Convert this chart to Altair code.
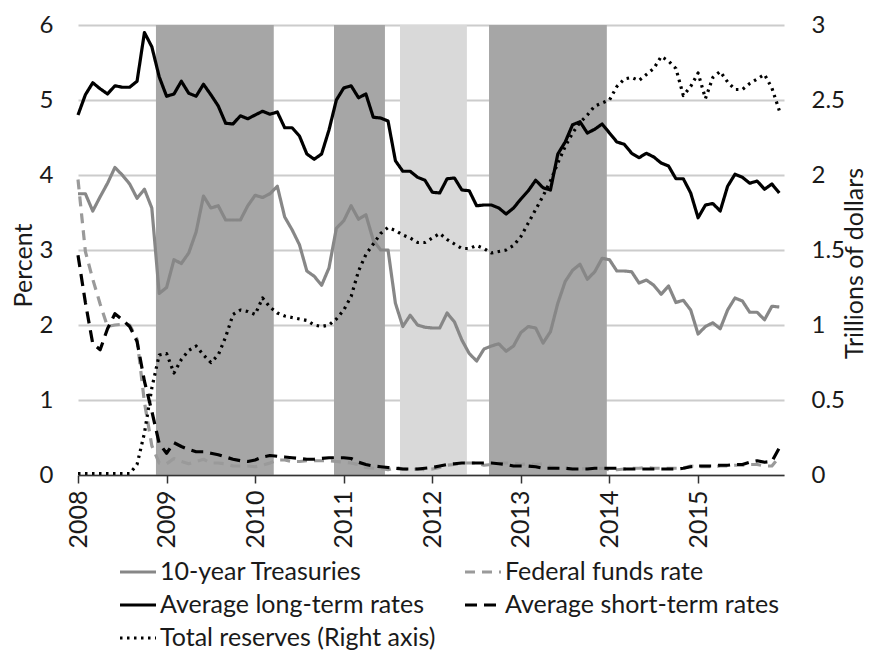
import altair as alt
import pandas as pd

# ---- data (monthly, Jan 2008 - Dec 2015) ----
years = list(range(2008, 2016))
series_names = ["10-year Treasuries", "Federal funds rate", "Average long-term rates",
                "Average short-term rates", "Total reserves (Right axis)"]
# legend fills column by column: this order shows row by row as in the reference
legend_order = ["10-year Treasuries", "Average long-term rates", "Total reserves (Right axis)",
                "Federal funds rate", "Average short-term rates"]
series_colors = {"10-year Treasuries": "#878787", "Federal funds rate": "#9a9a9a",
                 "Average long-term rates": "#000000", "Average short-term rates": "#000000",
                 "Total reserves (Right axis)": "#000000"}
series_dashes = {"10-year Treasuries": [1, 0], "Federal funds rate": [10, 7],
                 "Average long-term rates": [1, 0], "Average short-term rates": [12, 7],
                 "Total reserves (Right axis)": [2.5, 4.5]}

treasury_10y = [
    3.75, 3.75, 3.52, 3.71, 3.89, 4.10, 4.00, 3.88, 3.69, 3.81, 3.56, 2.42,
    2.50, 2.87, 2.82, 2.96, 3.24, 3.72, 3.56, 3.59, 3.40, 3.40, 3.40, 3.59,
    3.73, 3.70, 3.75, 3.85, 3.44, 3.27, 3.07, 2.72, 2.65, 2.53, 2.76, 3.29,
    3.39, 3.59, 3.41, 3.47, 3.13, 3.00, 3.00, 2.29, 1.98, 2.13, 2.00, 1.97,
    1.96, 1.96, 2.16, 2.04, 1.80, 1.62, 1.52, 1.68, 1.72, 1.75, 1.65, 1.72,
    1.90, 1.98, 1.96, 1.76, 1.91, 2.29, 2.58, 2.73, 2.81, 2.61, 2.71, 2.89,
    2.87, 2.72, 2.72, 2.71, 2.56, 2.60, 2.53, 2.41, 2.52, 2.30, 2.33, 2.20,
    1.88, 1.98, 2.03, 1.95, 2.20, 2.36, 2.32, 2.17, 2.17, 2.07, 2.25, 2.24,
]
fed_funds = [
    3.94, 2.98, 2.61, 2.28, 1.98, 2.00, 2.01, 2.00, 1.81, 0.97, 0.39, 0.16,
    0.15, 0.22, 0.18, 0.15, 0.18, 0.21, 0.16, 0.16, 0.15, 0.12, 0.12, 0.12,
    0.11, 0.13, 0.16, 0.20, 0.20, 0.18, 0.18, 0.19, 0.19, 0.19, 0.19, 0.18,
    0.17, 0.16, 0.14, 0.10, 0.09, 0.09, 0.07, 0.10, 0.08, 0.07, 0.08, 0.07,
    0.08, 0.10, 0.13, 0.14, 0.16, 0.16, 0.16, 0.13, 0.14, 0.16, 0.16, 0.16,
    0.14, 0.15, 0.14, 0.15, 0.11, 0.09, 0.09, 0.08, 0.08, 0.09, 0.08, 0.09,
    0.07, 0.07, 0.08, 0.09, 0.09, 0.10, 0.09, 0.09, 0.09, 0.09, 0.09, 0.12,
    0.11, 0.11, 0.11, 0.12, 0.12, 0.13, 0.13, 0.14, 0.14, 0.12, 0.12, 0.24,
]
avg_long = [
    4.80, 5.07, 5.23, 5.15, 5.08, 5.19, 5.17, 5.17, 5.25, 5.90, 5.71, 5.31,
    5.05, 5.08, 5.25, 5.09, 5.05, 5.21, 5.07, 4.92, 4.69, 4.68, 4.79, 4.75,
    4.80, 4.85, 4.81, 4.84, 4.63, 4.63, 4.52, 4.28, 4.21, 4.28, 4.60, 5.00,
    5.16, 5.19, 5.03, 5.08, 4.77, 4.76, 4.72, 4.19, 4.05, 4.05, 3.97, 3.93,
    3.77, 3.76, 3.95, 3.96, 3.80, 3.79, 3.59, 3.60, 3.60, 3.56, 3.48, 3.56,
    3.68, 3.79, 3.93, 3.83, 3.80, 4.28, 4.44, 4.67, 4.71, 4.56, 4.61, 4.68,
    4.56, 4.44, 4.41, 4.29, 4.23, 4.29, 4.24, 4.16, 4.12, 3.95, 3.95, 3.76,
    3.43, 3.60, 3.62, 3.52, 3.85, 4.01, 3.97, 3.89, 3.92, 3.81, 3.88, 3.76,
]
avg_short = [
    2.93, 2.30, 1.75, 1.67, 1.95, 2.15, 2.07, 1.98, 1.78, 1.25, 0.85, 0.42,
    0.29, 0.43, 0.38, 0.34, 0.31, 0.31, 0.29, 0.27, 0.24, 0.21, 0.19, 0.18,
    0.20, 0.24, 0.26, 0.25, 0.24, 0.23, 0.22, 0.21, 0.21, 0.22, 0.23, 0.23,
    0.23, 0.22, 0.17, 0.14, 0.12, 0.11, 0.10, 0.09, 0.08, 0.08, 0.08, 0.09,
    0.10, 0.12, 0.14, 0.15, 0.16, 0.16, 0.16, 0.16, 0.16, 0.15, 0.14, 0.12,
    0.12, 0.12, 0.11, 0.09, 0.09, 0.09, 0.09, 0.08, 0.08, 0.08, 0.09, 0.09,
    0.09, 0.09, 0.08, 0.08, 0.08, 0.08, 0.08, 0.08, 0.08, 0.08, 0.09, 0.11,
    0.12, 0.12, 0.12, 0.13, 0.13, 0.14, 0.14, 0.17, 0.19, 0.17, 0.18, 0.36,
]
total_reserves = [
    0.01, 0.01, 0.01, 0.01, 0.01, 0.01, 0.01, 0.01, 0.07, 0.28, 0.58, 0.80,
    0.81, 0.68, 0.77, 0.83, 0.86, 0.80, 0.75, 0.80, 0.92, 1.07, 1.10, 1.09,
    1.07, 1.18, 1.12, 1.08, 1.06, 1.05, 1.04, 1.03, 1.00, 0.99, 1.00, 1.04,
    1.10, 1.19, 1.36, 1.47, 1.54, 1.61, 1.65, 1.63, 1.60, 1.58, 1.55, 1.55,
    1.58, 1.61, 1.57, 1.54, 1.51, 1.51, 1.53, 1.51, 1.48, 1.49, 1.50, 1.53,
    1.59, 1.68, 1.77, 1.86, 1.96, 2.08, 2.19, 2.28, 2.35, 2.40, 2.46, 2.48,
    2.50, 2.59, 2.64, 2.65, 2.63, 2.67, 2.71, 2.79, 2.76, 2.71, 2.53, 2.59,
    2.68, 2.51, 2.65, 2.69, 2.62, 2.57, 2.57, 2.61, 2.64, 2.67, 2.58, 2.43,
]

# shaded policy periods (decimal years)
band_start = [2008.88, 2010.89, 2011.635, 2012.64]
band_end = [2010.21, 2011.465, 2012.39, 2013.97]
band_fill = ["#a6a6a6", "#a6a6a6", "#d9d9d9", "#a6a6a6"]

# ---- build tables ----
t = [y + m / 12 for y in years for m in range(12)]
rates_rows = []
for name, vals in zip(series_names[:4], [treasury_10y, fed_funds, avg_long, avg_short]):
    for ti, v in zip(t, vals):
        rates_rows.append({"t": ti, "value": v, "series": name})
rates_df = pd.DataFrame(rates_rows)
res_df = pd.DataFrame({"t": t, "value": total_reserves, "series": series_names[4]})
bands_df = pd.DataFrame({"start": band_start, "end": band_end, "fill": band_fill})

W, H = 706, 450
FONT = "Lato"
TXT = "#1a1a1a"

color_scale = alt.Scale(domain=legend_order, range=[series_colors[s] for s in legend_order])
dash_scale = alt.Scale(domain=legend_order, range=[series_dashes[s] for s in legend_order])

x_axis = alt.Axis(values=years, format="d", labelAngle=270, labelFontSize=25,
                  labelFont=FONT, labelColor=TXT, tickSize=8, tickColor="#333333",
                  domainColor="#333333", domainWidth=1.5, tickWidth=1.5, grid=False,
                  title=None, labelPadding=7, zindex=1)
x_scale = alt.Scale(domain=[2008, 2015.97], nice=False, zero=False)

bands = alt.Chart(bands_df).mark_rect().encode(
    x=alt.X("start:Q", scale=x_scale, axis=x_axis, title=None),
    x2="end:Q",
    y=alt.value(0),
    y2=alt.value(H),
    fill=alt.Fill("fill:N", scale=None),
)

legend_cfg = alt.Legend(title=None)

rates = alt.Chart(rates_df).mark_line(strokeWidth=3.2, strokeJoin="round").encode(
    x=alt.X("t:Q", scale=x_scale, axis=x_axis, title=None),
    y=alt.Y("value:Q", scale=alt.Scale(domain=[0, 6], nice=False, zero=True),
            axis=alt.Axis(orient="left", values=[0, 1, 2, 3, 4, 5, 6], format="d",
                          grid=True, gridColor="#cccccc", gridWidth=2, domain=False,
                          ticks=False, labelPadding=25, labelFontSize=24, labelFont=FONT,
                          labelColor=TXT, title="Percent", titleFontSize=25,
                          titleFont=FONT, titleColor=TXT, titleFontWeight="normal",
                          titleAngle=270, titleX=-55, titleY=240, titleAlign="center",
                          titleBaseline="middle")),
    color=alt.Color("series:N", scale=color_scale, legend=legend_cfg),
    strokeDash=alt.StrokeDash("series:N", scale=dash_scale, legend=legend_cfg),
    detail="series:N",
)

reserves = alt.Chart(res_df).mark_line(strokeWidth=3.2, strokeJoin="round").encode(
    x=alt.X("t:Q", scale=x_scale, axis=x_axis, title=None),
    y=alt.Y("value:Q", scale=alt.Scale(domain=[0, 3], nice=False, zero=True),
            axis=alt.Axis(orient="right", values=[0, 0.5, 1, 1.5, 2, 2.5, 3], format="~g",
                          grid=False, domain=False, ticks=False, labelPadding=27,
                          labelFontSize=24, labelFont=FONT, labelColor=TXT,
                          title="Trillions of dollars", titleFontSize=25, titleFont=FONT,
                          titleColor=TXT, titleFontWeight="normal", titleAngle=270,
                          titleX=70, titleY=238, titleAlign="center",
                          titleBaseline="middle")),
    color=alt.Color("series:N", scale=color_scale, legend=legend_cfg),
    strokeDash=alt.StrokeDash("series:N", scale=dash_scale, legend=legend_cfg),
)

chart = alt.layer(alt.layer(bands, rates), reserves).resolve_scale(
    y="independent"
).properties(
    width=W, height=H,
    padding={"left": 70, "top": 17, "right": 84, "bottom": 175},
    autosize=alt.AutoSizeParams(type="none"),
).configure(
    font=FONT,
).configure_view(
    stroke=None,
).configure_legend(
    orient="none", legendX=40, legendY=527, columns=2, columnPadding=22,
    symbolType="stroke", symbolSize=1296, symbolStrokeWidth=3.2,
    labelFontSize=25, labelFont=FONT, labelColor=TXT, labelOffset=2,
    rowPadding=-12, padding=0, labelLimit=400,
)

chart.save("out.html", embed_options={"renderer": "svg", "actions": False})
